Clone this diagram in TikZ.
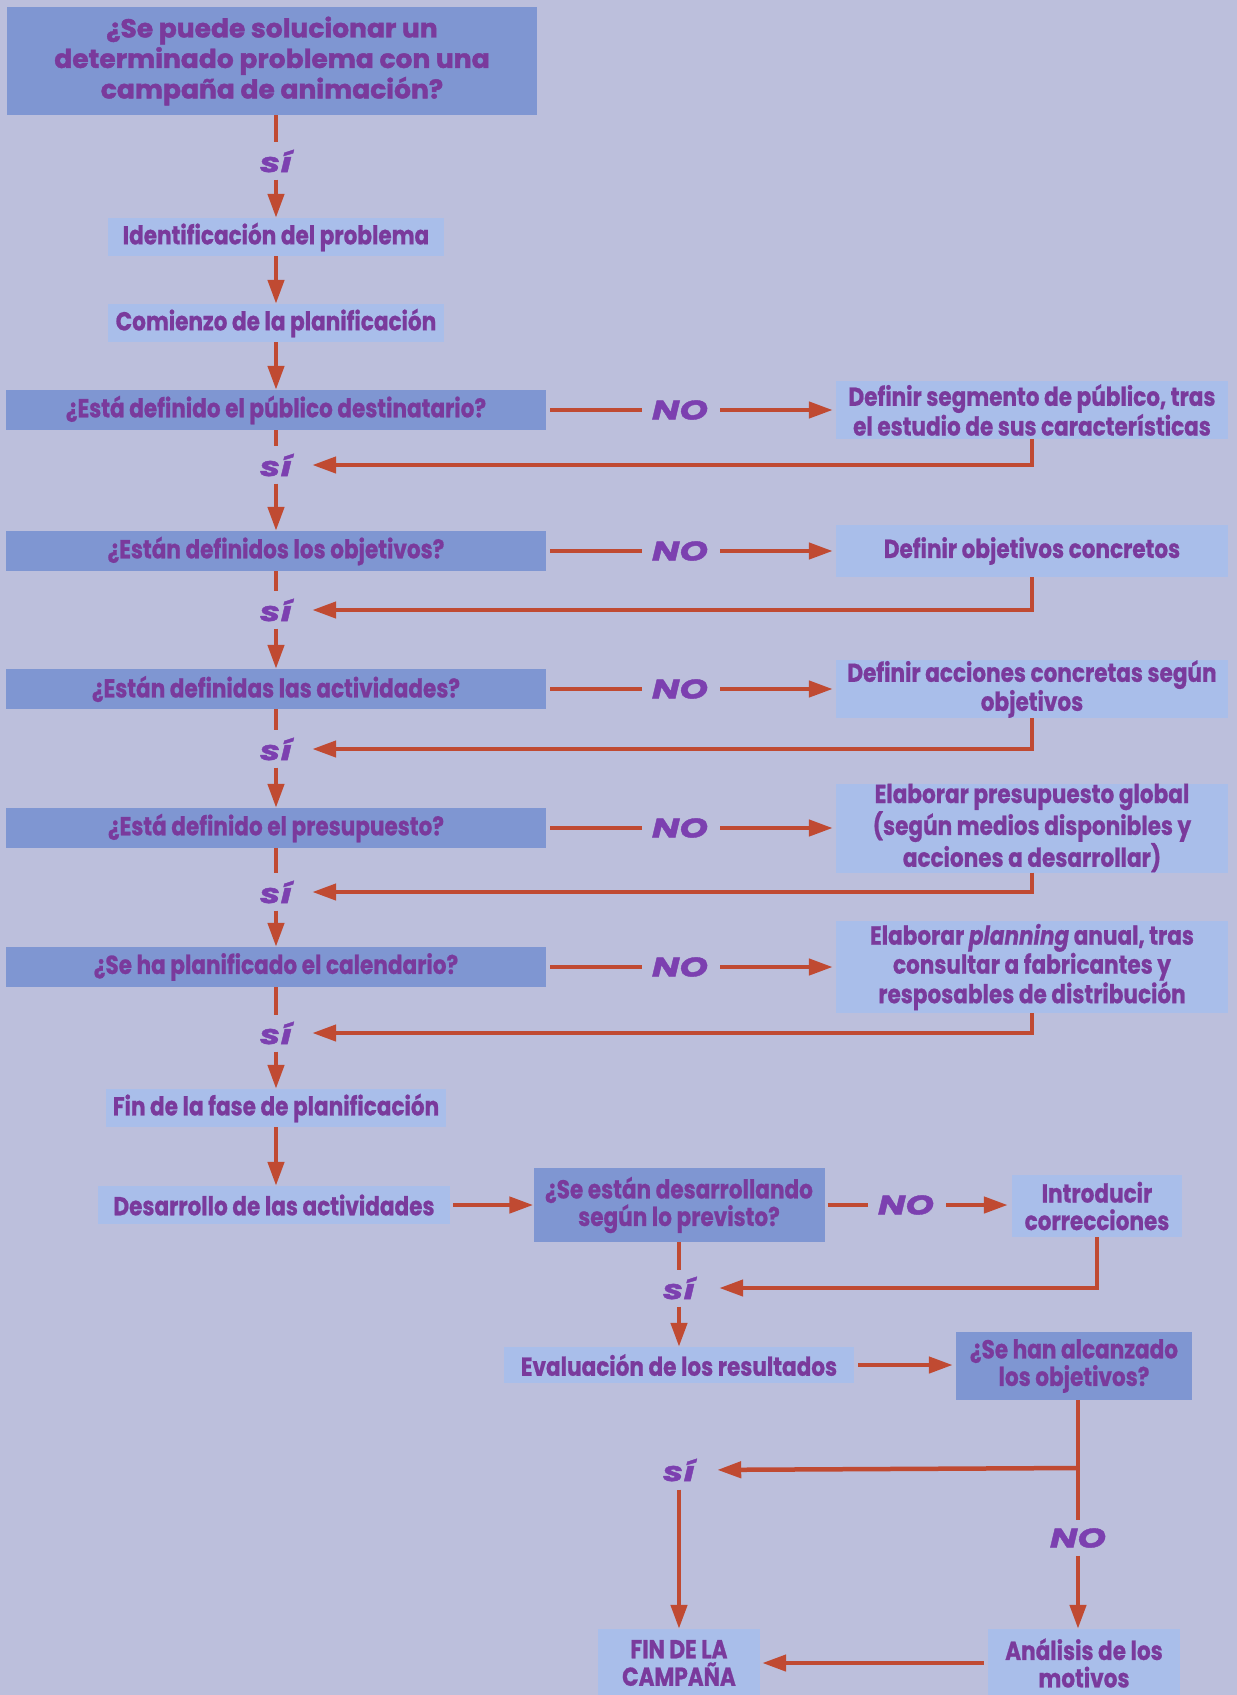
\documentclass[tikz,border=0pt]{standalone}
\usepackage{fontspec}
\usetikzlibrary{arrows.meta}
\newfontfamily\labfont[FakeStretch=0.83,FakeBold=0.8]{Poppins}
\newfontfamily\ttlfont[FakeStretch=1.02,FakeBold=1.6]{Poppins}
\newfontfamily\yesfont[FakeStretch=1.35,FakeBold=1.5]{Poppins}
\definecolor{pagebg}{HTML}{BCBFDC}
\definecolor{qblue}{HTML}{7F96D2}
\definecolor{lblue}{HTML}{A9BEEA}
\definecolor{ink}{HTML}{7A3A9C}
\definecolor{yesink}{HTML}{7C40B0}
\definecolor{flow}{HTML}{C04A32}
\begin{document}
\begin{tikzpicture}[x=1pt,y=-1pt,
  box/.style={inner sep=0pt, align=center, text=ink,
    font=\labfont\bfseries\fontsize{26}{27.5}\selectfont},
  qbox/.style={box, fill=qblue, minimum height=40pt},
  lbox/.style={box, fill=lblue, minimum height=38pt},
  yes/.style={inner sep=0pt, text=yesink,
    font=\yesfont\bfseries\itshape\fontsize{27}{27}\selectfont},
  ln/.style={draw=flow, line width=4.5pt},
  arr/.style={ln, -{Triangle[length=24pt,width=16pt]}},
]
\fill[pagebg] (0,0) rectangle (1237,1695);
\useasboundingbox (0,0) rectangle (1237,1695);

% planning column
\node[box, fill=qblue, minimum width=530pt, minimum height=108pt,
  font=\ttlfont\bfseries\fontsize{26}{30.5}\selectfont] (ttl) at (272,61)
  {¿Se puede solucionar un\\determinado problema con una\\campaña de animación?};
\node[yes] (si1) at (276,161) {sí};
\node[lbox, minimum width=336pt] (id) at (276,237) {Identificación del problema};
\node[lbox, minimum width=336pt] (co) at (276,323) {Comienzo de la planificación};
\node[qbox, minimum width=540pt] (q1) at (276,410) {¿Está definido el público destinatario?};
\node[yes] (si2) at (276,465) {sí};
\node[qbox, minimum width=540pt] (q2) at (276,551) {¿Están definidos los objetivos?};
\node[yes] (si3) at (276,610) {sí};
\node[qbox, minimum width=540pt] (q3) at (276,689) {¿Están definidas las actividades?};
\node[yes] (si4) at (276,749) {sí};
\node[qbox, minimum width=540pt] (q4) at (276,828) {¿Está definido el presupuesto?};
\node[yes] (si5) at (276,892) {sí};
\node[qbox, minimum width=540pt] (q5) at (276,967) {¿Se ha planificado el calendario?};
\node[yes] (si6) at (276,1033) {sí};
\node[lbox, minimum width=340pt] (fp) at (276,1108) {Fin de la fase de planificación};
\node[lbox, minimum width=352pt] (de) at (274,1205) {Desarrollo de las actividades};

% NO branches
\node[yes] (no1) at (680,410) {NO};
\node[yes] (no2) at (680,551) {NO};
\node[yes] (no3) at (680,689) {NO};
\node[yes] (no4) at (680,828) {NO};
\node[yes] (no5) at (680,967) {NO};
\node[lbox, minimum width=392pt, minimum height=58pt] (r1) at (1032,410)
  {Definir segmento de público, tras\\el estudio de sus características};
\node[lbox, minimum width=392pt, minimum height=52pt] (r2) at (1032,551)
  {Definir objetivos concretos};
\node[lbox, minimum width=392pt, minimum height=58pt] (r3) at (1032,689)
  {Definir acciones concretas según\\objetivos};
\node[lbox, minimum width=392pt, minimum height=89pt] (r4) at (1032,828)
  {Elaborar presupuesto global\\(según medios disponibles y\\acciones a desarrollar)};
\node[lbox, minimum width=392pt, minimum height=92pt] (r5) at (1032,967)
  {Elaborar {\itshape planning} anual, tras\\consultar a fabricantes y\\resposables de distribución};

% execution and control
\node[qbox, minimum width=291pt, minimum height=74pt] (q6) at (679,1205)
  {¿Se están desarrollando\\según lo previsto?};
\node[yes] (no6) at (906,1205) {NO};
\node[lbox, minimum width=170pt, minimum height=62pt] (ic) at (1097,1206)
  {Introducir\\correcciones};
\node[yes] (si7) at (679,1288) {sí};
\node[lbox, minimum width=350pt, minimum height=36pt] (ev) at (679,1365) {Evaluación de los resultados};
\node[qbox, minimum width=236pt, minimum height=68pt] (q7) at (1074,1366)
  {¿Se han alcanzado\\los objetivos?};
\node[yes] (si8) at (679,1470) {sí};
\node[yes] (no8) at (1078,1538) {NO};
\node[lbox, minimum width=162pt, minimum height=68pt] (end) at (679,1663)
  {FIN DE LA\\CAMPAÑA};
\node[lbox, minimum width=192pt, minimum height=68pt] (an) at (1084,1663)
  {Análisis de los\\motivos};
\coordinate (split) at (1078,1468);

% main column connectors
\draw[ln, shorten >=7pt] (si1 |- ttl.south) -- (si1.north);
\draw[arr, shorten <=7pt] (si1.south) -- (id.north);
\draw[arr] (id.south) -- (co.north);
\draw[arr] (co.south) -- (q1.north);
\foreach \q/\s/\n in {q1/si2/q2, q2/si3/q3, q3/si4/q4, q4/si5/q5, q5/si6/fp}{
  \draw[ln, shorten >=7pt] (\q.south) -- (\s.north);
  \draw[arr, shorten <=7pt] (\s.south) -- (\n.north);
}
\draw[arr] (fp.south) -- (fp.south |- de.north);

% NO branches and returns
\foreach \q/\n/\r/\s in {q1/no1/r1/si2, q2/no2/r2/si3, q3/no3/r3/si4, q4/no4/r4/si5, q5/no5/r5/si6}{
  \draw[ln, shorten <=4pt, shorten >=10pt] (\q.east) -- (\n.west);
  \draw[arr, shorten <=12pt, shorten >=3pt] (\n.east) -- (\r.west);
  \draw[arr, shorten >=20pt] (\r.south) |- (\s.east);
}

% execution and control connectors
\draw[arr, shorten <=3pt] (de.east) -- (q6.west);
\draw[ln, shorten <=3pt, shorten >=10pt] (q6.east) -- (no6.west);
\draw[arr, shorten <=12pt, shorten >=4pt] (no6.east) -- (ic.west |- no6);
\draw[ln, shorten >=7pt] (q6.south) -- (si7.north);
\draw[arr, shorten >=24pt] (ic.south) |- (si7.east);
\draw[arr, shorten <=7pt] (si7.south) -- (ev.north);
\draw[arr, shorten <=4pt, shorten >=3pt] (ev.east) -- (ev.east -| q7.west);
\draw[ln, shorten >=8pt] (split |- q7.south) -- (no8.north);
\draw[arr, shorten <=8pt] (no8.south) -- (no8.south |- an.north);
\draw[arr, shorten >=22pt] (split) -- (si8.east);
\draw[arr, shorten <=8pt] (si8.south) -- (end.north);
\draw[arr, shorten <=4pt, shorten >=2pt] (an.west) -- (end.east);
\end{tikzpicture}
\end{document}
